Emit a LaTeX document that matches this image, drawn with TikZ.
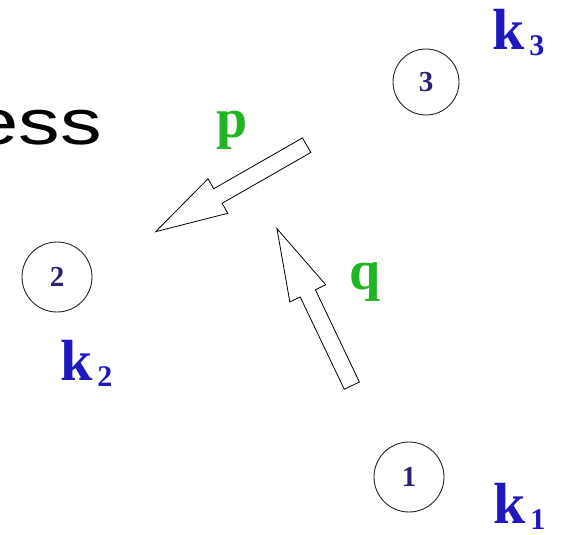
\documentclass[tikz,border=0pt]{standalone}
\usepackage{fontspec}
\setmainfont{Liberation Serif}
\newfontfamily\slidesans{Liberation Sans}
\usetikzlibrary{shapes.arrows}
\definecolor{kblue}{HTML}{1E18BE}
\definecolor{sitenavy}{HTML}{2A2272}
\definecolor{momgreen}{HTML}{22B422}
\newcommand{\klab}[1]{k\hspace{5pt}\raisebox{-6pt}{\fontsize{30}{30}\selectfont #1}}

\begin{document}
\begin{tikzpicture}[x=1pt,y=-1pt,
  site/.style={circle,draw=black!85,line width=0.9pt,inner sep=0pt,
    text=sitenavy,font=\bfseries\fontsize{29}{29}\selectfont},
  klabel/.style={text=kblue,inner sep=0pt,anchor=base west,
    font=\bfseries\fontsize{58}{58}\selectfont},
  mom/.style={text=momgreen,inner sep=0pt,anchor=base west,
    font=\bfseries\fontsize{56}{56}\selectfont},
  blockarrow/.style={single arrow,draw=black,line width=0.8pt,fill=white,
    inner xsep=0pt,inner ysep=8pt,minimum height=174pt,
    single arrow head extend=11.5pt,single arrow tip angle=31,anchor=tail}]
  \useasboundingbox (0,0) rectangle (563,535);

  \node[inner sep=0pt,anchor=base west,xscale=1.3,
    font=\slidesans\fontsize{64}{64}\selectfont] (title) at (-28,145) {ess};

  \foreach \n/\x/\y/\d in {1/409/477/70, 2/57/277/70, 3/426/82/66} {
    \node[site,minimum size=\d pt] (c\n) at (\x,\y) {\n};
  }
  \foreach \n/\x/\y in {1/493/523, 2/60/380, 3/492/50} {
    \node[klabel] (k\n) at (\x,\y) {\klab{\n}};
  }

  \node[blockarrow,rotate=209.8] (pArrow) at (307,145) {};
  \node[blockarrow,rotate=115.5] (qArrow) at (352,386) {};
  \node[mom] (p) at (216,138) {p};
  \node[mom] (q) at (349,289) {q};
\end{tikzpicture}
\end{document}
